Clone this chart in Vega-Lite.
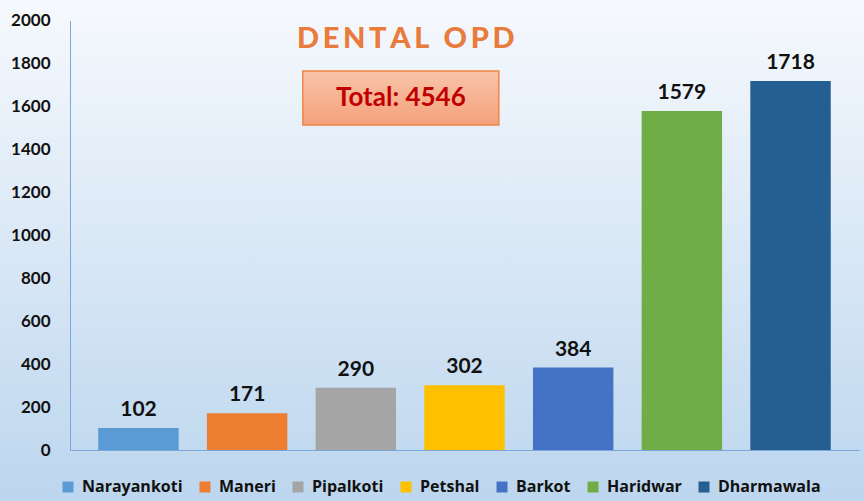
{
  "$schema": "https://vega.github.io/schema/vega-lite/v6.json",
  "width": 864,
  "height": 501,
  "autosize": {"type": "none"},
  "padding": 0,
  "background": "#dbe8f5",
  "config": {
    "font": "Lato",
    "view": {
      "stroke": null,
      "fill": {"gradient": "linear", "x1": 0, "y1": 0, "x2": 0, "y2": 1,
        "stops": [{"offset": 0, "color": "#f6f9fd"}, {"offset": 1, "color": "#bcd6ee"}]}
    }
  },
  "data": {"values": [
    {"site": "Narayankoti", "value": 102},
    {"site": "Maneri", "value": 171},
    {"site": "Pipalkoti", "value": 290},
    {"site": "Petshal", "value": 302},
    {"site": "Barkot", "value": 384},
    {"site": "Haridwar", "value": 1579},
    {"site": "Dharmawala", "value": 1718}
  ]},
  "layer": [
    {
      "mark": {"type": "bar"},
      "encoding": {
        "x": {"field": "site", "type": "nominal", "sort": null,
          "scale": {"range": [70, 859], "paddingInner": 0.26, "paddingOuter": 0.26},
          "axis": {"orient": "bottom", "offset": -51, "title": null, "labels": false, "ticks": false, "grid": false, "domainColor": "#7ba7db", "domainWidth": 1}},
        "y": {"field": "value", "type": "quantitative",
          "scale": {"domain": [0, 2000], "range": [450, 20.5], "nice": false, "zero": true},
          "axis": {"orient": "left", "offset": -70, "title": null, "format": "d", "values": [0,200,400,600,800,1000,1200,1400,1600,1800,2000], "ticks": false, "grid": false, "domainColor": "#7ba7db", "domainWidth": 1, "labelPadding": 20, "labelFont": "Lato", "labelFontSize": 17, "labelFontWeight": "bold", "labelColor": "#111111"}},
        "color": {"field": "site", "type": "nominal", "sort": null,
          "scale": {"domain": ["Narayankoti","Maneri","Pipalkoti","Petshal","Barkot","Haridwar","Dharmawala"],
                    "range": ["#5b9bd5","#ed7d31","#a5a5a5","#ffc000","#4472c4","#70ad47","#255e91"]},
          "legend": {"orient": "none", "legendX": 60, "legendY": 479, "direction": "horizontal", "title": null,
            "symbolType": "square", "symbolSize": 121, "symbolStrokeWidth": 0,
            "labelFont": "Open Sans", "labelFontSize": 16, "labelFontWeight": "bold", "labelColor": "#111111",
            "columnPadding": 14, "labelOffset": 6}}
      }
    },
    {
      "mark": {"type": "text", "baseline": "alphabetic", "dy": -12, "font": "Lato", "fontSize": 21, "fontWeight": "bold", "color": "#111111"},
      "encoding": {
        "x": {"field": "site", "type": "nominal", "sort": null},
        "y": {"field": "value", "type": "quantitative"},
        "text": {"field": "value", "type": "quantitative"}
      }
    },
    {
      "data": {"values": [{"label": "D\u2009E\u2009N\u2009T\u2009A\u2009L\u2009 \u2009O\u2009P\u2009D"}]},
      "mark": {"type": "text", "baseline": "middle", "align": "center", "dx": 50, "font": "Lato", "fontSize": 29, "fontWeight": 900, "color": "#e97b3c"},
      "encoding": {
        "x": {"datum": "Pipalkoti", "type": "nominal"},
        "y": {"datum": 1913, "type": "quantitative"},
        "text": {"field": "label", "type": "nominal"}
      }
    },
    {
      "data": {"values": [{"label": "Total: 4546"}]},
      "mark": {"type": "bar", "width": 196, "xOffset": 45, "stroke": "#ee8746", "strokeWidth": 1.5,
        "fill": {"gradient": "linear", "x1": 0, "y1": 0, "x2": 0, "y2": 1,
          "stops": [{"offset": 0, "color": "#f9c4a9"}, {"offset": 1, "color": "#f4a17a"}]}},
      "encoding": {
        "x": {"datum": "Pipalkoti", "type": "nominal"},
        "y": {"datum": 1765, "type": "quantitative"},
        "y2": {"datum": 1513}
      }
    },
    {
      "data": {"values": [{"label": "Total: 4546"}]},
      "mark": {"type": "text", "baseline": "middle", "align": "center", "dx": 45, "font": "Lato", "fontSize": 26, "fontWeight": "bold", "color": "#c00000"},
      "encoding": {
        "x": {"datum": "Pipalkoti", "type": "nominal"},
        "y": {"datum": 1639, "type": "quantitative"},
        "text": {"field": "label", "type": "nominal"}
      }
    }
  ]
}
